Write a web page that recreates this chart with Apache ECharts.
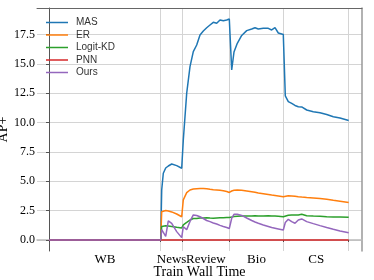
<!DOCTYPE html>
<html>
<head>
<meta charset="utf-8">
<script src="https://cdn.jsdelivr.net/npm/echarts@6/dist/echarts.min.js"></script>
<style>html,body{margin:0;padding:0;background:#fff;}#c{width:374px;height:280px;}</style>
</head>
<body>
<div id="c"></div>
<script>
// Shared wall-time samples (arbitrary time units)
const wallTime = [0, 111.7, 112.7, 114.3, 116.7, 119.3, 122.7, 127.7, 132.7, 134.3, 137.7, 141, 144.3, 147.7, 151, 154.3, 157.7, 161, 164.3, 167.7, 171, 174.3, 177.7, 180.3, 182.7, 185, 188.3, 192.7, 197.7, 202.7, 206, 209.3, 214.3, 219.3, 222.7, 226, 229.3, 234.3, 236.3, 239.3, 242.7, 246, 249.3, 252.7, 257.7, 264.3, 271, 277.7, 284.3, 291, 299.7];

const masValues = [0, 0, 4.26, 5.68, 6.13, 6.30, 6.47, 6.33, 6.11, 8.52, 12.50, 14.76, 16.04, 16.61, 17.46, 17.80, 18.08, 18.31, 18.54, 18.46, 18.74, 18.68, 18.74, 18.82, 14.48, 16.01, 16.75, 17.42, 17.83, 17.97, 18.08, 17.97, 18.03, 18.03, 17.89, 18.08, 17.63, 17.50, 12.27, 11.78, 11.63, 11.46, 11.35, 11.33, 11.07, 10.93, 10.84, 10.69, 10.50, 10.39, 10.18];

const erValues = [0, 0, 2.41, 2.50, 2.51, 2.47, 2.39, 2.21, 1.98, 3.41, 4.03, 4.26, 4.34, 4.37, 4.39, 4.39, 4.37, 4.32, 4.28, 4.26, 4.23, 4.20, 4.13, 4.05, 4.17, 4.23, 4.26, 4.23, 4.17, 4.11, 4.06, 4.00, 3.94, 3.88, 3.83, 3.79, 3.75, 3.68, 3.75, 3.77, 3.75, 3.72, 3.69, 3.66, 3.62, 3.58, 3.53, 3.47, 3.38, 3.30, 3.19];

const logitKdValues = [0, 0, 1.15, 1.24, 1.22, 1.19, 1.15, 1.08, 1.02, 1.28, 1.49, 1.70, 1.83, 1.83, 1.87, 1.87, 1.90, 1.87, 1.85, 1.87, 1.89, 1.90, 1.92, 1.92, 1.96, 2.00, 2.02, 2.04, 2.04, 2.04, 2.06, 2.04, 2.04, 2.06, 2.04, 2.04, 2.02, 1.98, 2.04, 2.10, 2.13, 2.13, 2.13, 2.19, 2.07, 2.04, 2.02, 1.98, 1.96, 1.96, 1.93];

const pnnValues = [0, 0, 0, 0, 0, 0, 0, 0, 0, 0, 0, 0, 0, 0, 0, 0, 0, 0, 0, 0, 0, 0, 0, 0, 0, 0, 0, 0, 0, 0, 0, 0, 0, 0, 0, 0, 0, 0, 0, 0, 0, 0, 0, 0, 0, 0, 0, 0, 0, 0, 0];

const oursValues = [0, 0, 0.89, 0.98, 0.30, 1.62, 1.41, 0.71, 0.20, 1.13, 0.88, 1.58, 2.13, 2.09, 1.98, 1.83, 1.66, 1.56, 1.45, 1.36, 1.24, 1.15, 1.06, 0.98, 1.85, 2.19, 2.19, 2.09, 1.87, 1.66, 1.53, 1.42, 1.28, 1.15, 1.06, 1.00, 0.94, 0.85, 1.49, 1.76, 1.56, 1.42, 1.70, 1.79, 1.56, 1.39, 1.22, 1.06, 0.91, 0.77, 0.62];

// Task boundaries on the wall-time axis and task names
const taskBoundaries = [0, 111.7, 133.5, 180.3, 234.7, 299.7];
const taskNames = ['WB', 'News', 'Review', 'Bio', 'CS'];
const yTicks = [0, 2.5, 5, 7.5, 10, 12.5, 15, 17.5];

const seriesNames = ['MAS', 'ER', 'Logit-KD', 'PNN', 'Ours'];
const seriesValues = [masValues, erValues, logitKdValues, pnnValues, oursValues];
const colors = ['#1f77b4', '#ff7f0e', '#2ca02c', '#d62728', '#9467bd'];

const taskMids = taskNames.map((n, i) => (taskBoundaries[i] + taskBoundaries[i + 1]) / 2);

const serif = 'Liberation Serif';
const chart = echarts.init(document.getElementById('c'), null, {renderer: 'canvas'});
chart.setOption({
  animation: false,
  color: colors,
  grid: {left: 37, right: 12, top: 8, bottom: 29, containLabel: false, outerBoundsMode: 'none'},
  legend: {
    orient: 'vertical', left: 41, top: 11.5, icon: 'rect', itemWidth: 22, itemHeight: 1.5,
    itemGap: 0.5,
    textStyle: {fontFamily: 'Liberation Sans', fontSize: 10, color: '#333', lineHeight: 12, padding: [0, 0, 0, 3]},
    data: seriesNames
  },
  xAxis: [{
    type: 'value', min: -12, max: 313,
    name: 'Train Wall Time', nameLocation: 'middle', nameGap: 14.5, nameMoveOverlap: false,
    nameTextStyle: {fontFamily: serif, fontSize: 14, color: '#000'},
    axisLine: {show: true, lineStyle: {color: '#bbb', width: 1.5}},
    axisTick: {show: true, length: 2, lineStyle: {color: '#444'}, customValues: taskBoundaries},
    axisLabel: {
      customValues: taskMids, margin: 2,
      fontFamily: serif, fontSize: 13, color: '#000',
      formatter: v => { const i = taskMids.findIndex(m => Math.abs(m - v) < 0.01); return i >= 0 ? taskNames[i] : ''; }
    },
    splitLine: {show: true, lineStyle: {color: '#d4d4d4', width: 1}}
  }, {
    type: 'value', min: -12, max: 313, position: 'top',
    axisLine: {show: true, onZero: false, lineStyle: {color: '#666', width: 1}},
    axisTick: {show: false}, axisLabel: {show: false}, splitLine: {show: false}
  }],
  yAxis: [{
    type: 'value', min: -0.94, max: 19.76,
    name: 'AP+', nameLocation: 'middle', nameGap: 27, nameMoveOverlap: false,
    nameTextStyle: {fontFamily: serif, fontSize: 14, color: '#000'},
    axisLine: {show: true, lineStyle: {color: '#555', width: 1}},
    axisTick: {show: true, length: 3, lineStyle: {color: '#555'}, customValues: yTicks},
    axisLabel: {customValues: yTicks, margin: 2, fontFamily: serif, fontSize: 12, color: '#000', formatter: v => v.toFixed(1)},
    splitLine: {show: true, lineStyle: {color: '#d4d4d4', width: 1}}
  }, {
    type: 'value', min: -0.94, max: 19.76, position: 'right',
    axisLine: {show: true, onZero: false, lineStyle: {color: '#999', width: 1.5}},
    axisTick: {show: false}, axisLabel: {show: false}, splitLine: {show: false}
  }],
  series: seriesNames.map((name, k) => ({
    name, type: 'line', showSymbol: false, symbol: 'none',
    lineStyle: {width: 1.5, color: colors[k]},
    data: wallTime.map((t, i) => [t, seriesValues[k][i]])
  }))
});
</script>
</body>
</html>
